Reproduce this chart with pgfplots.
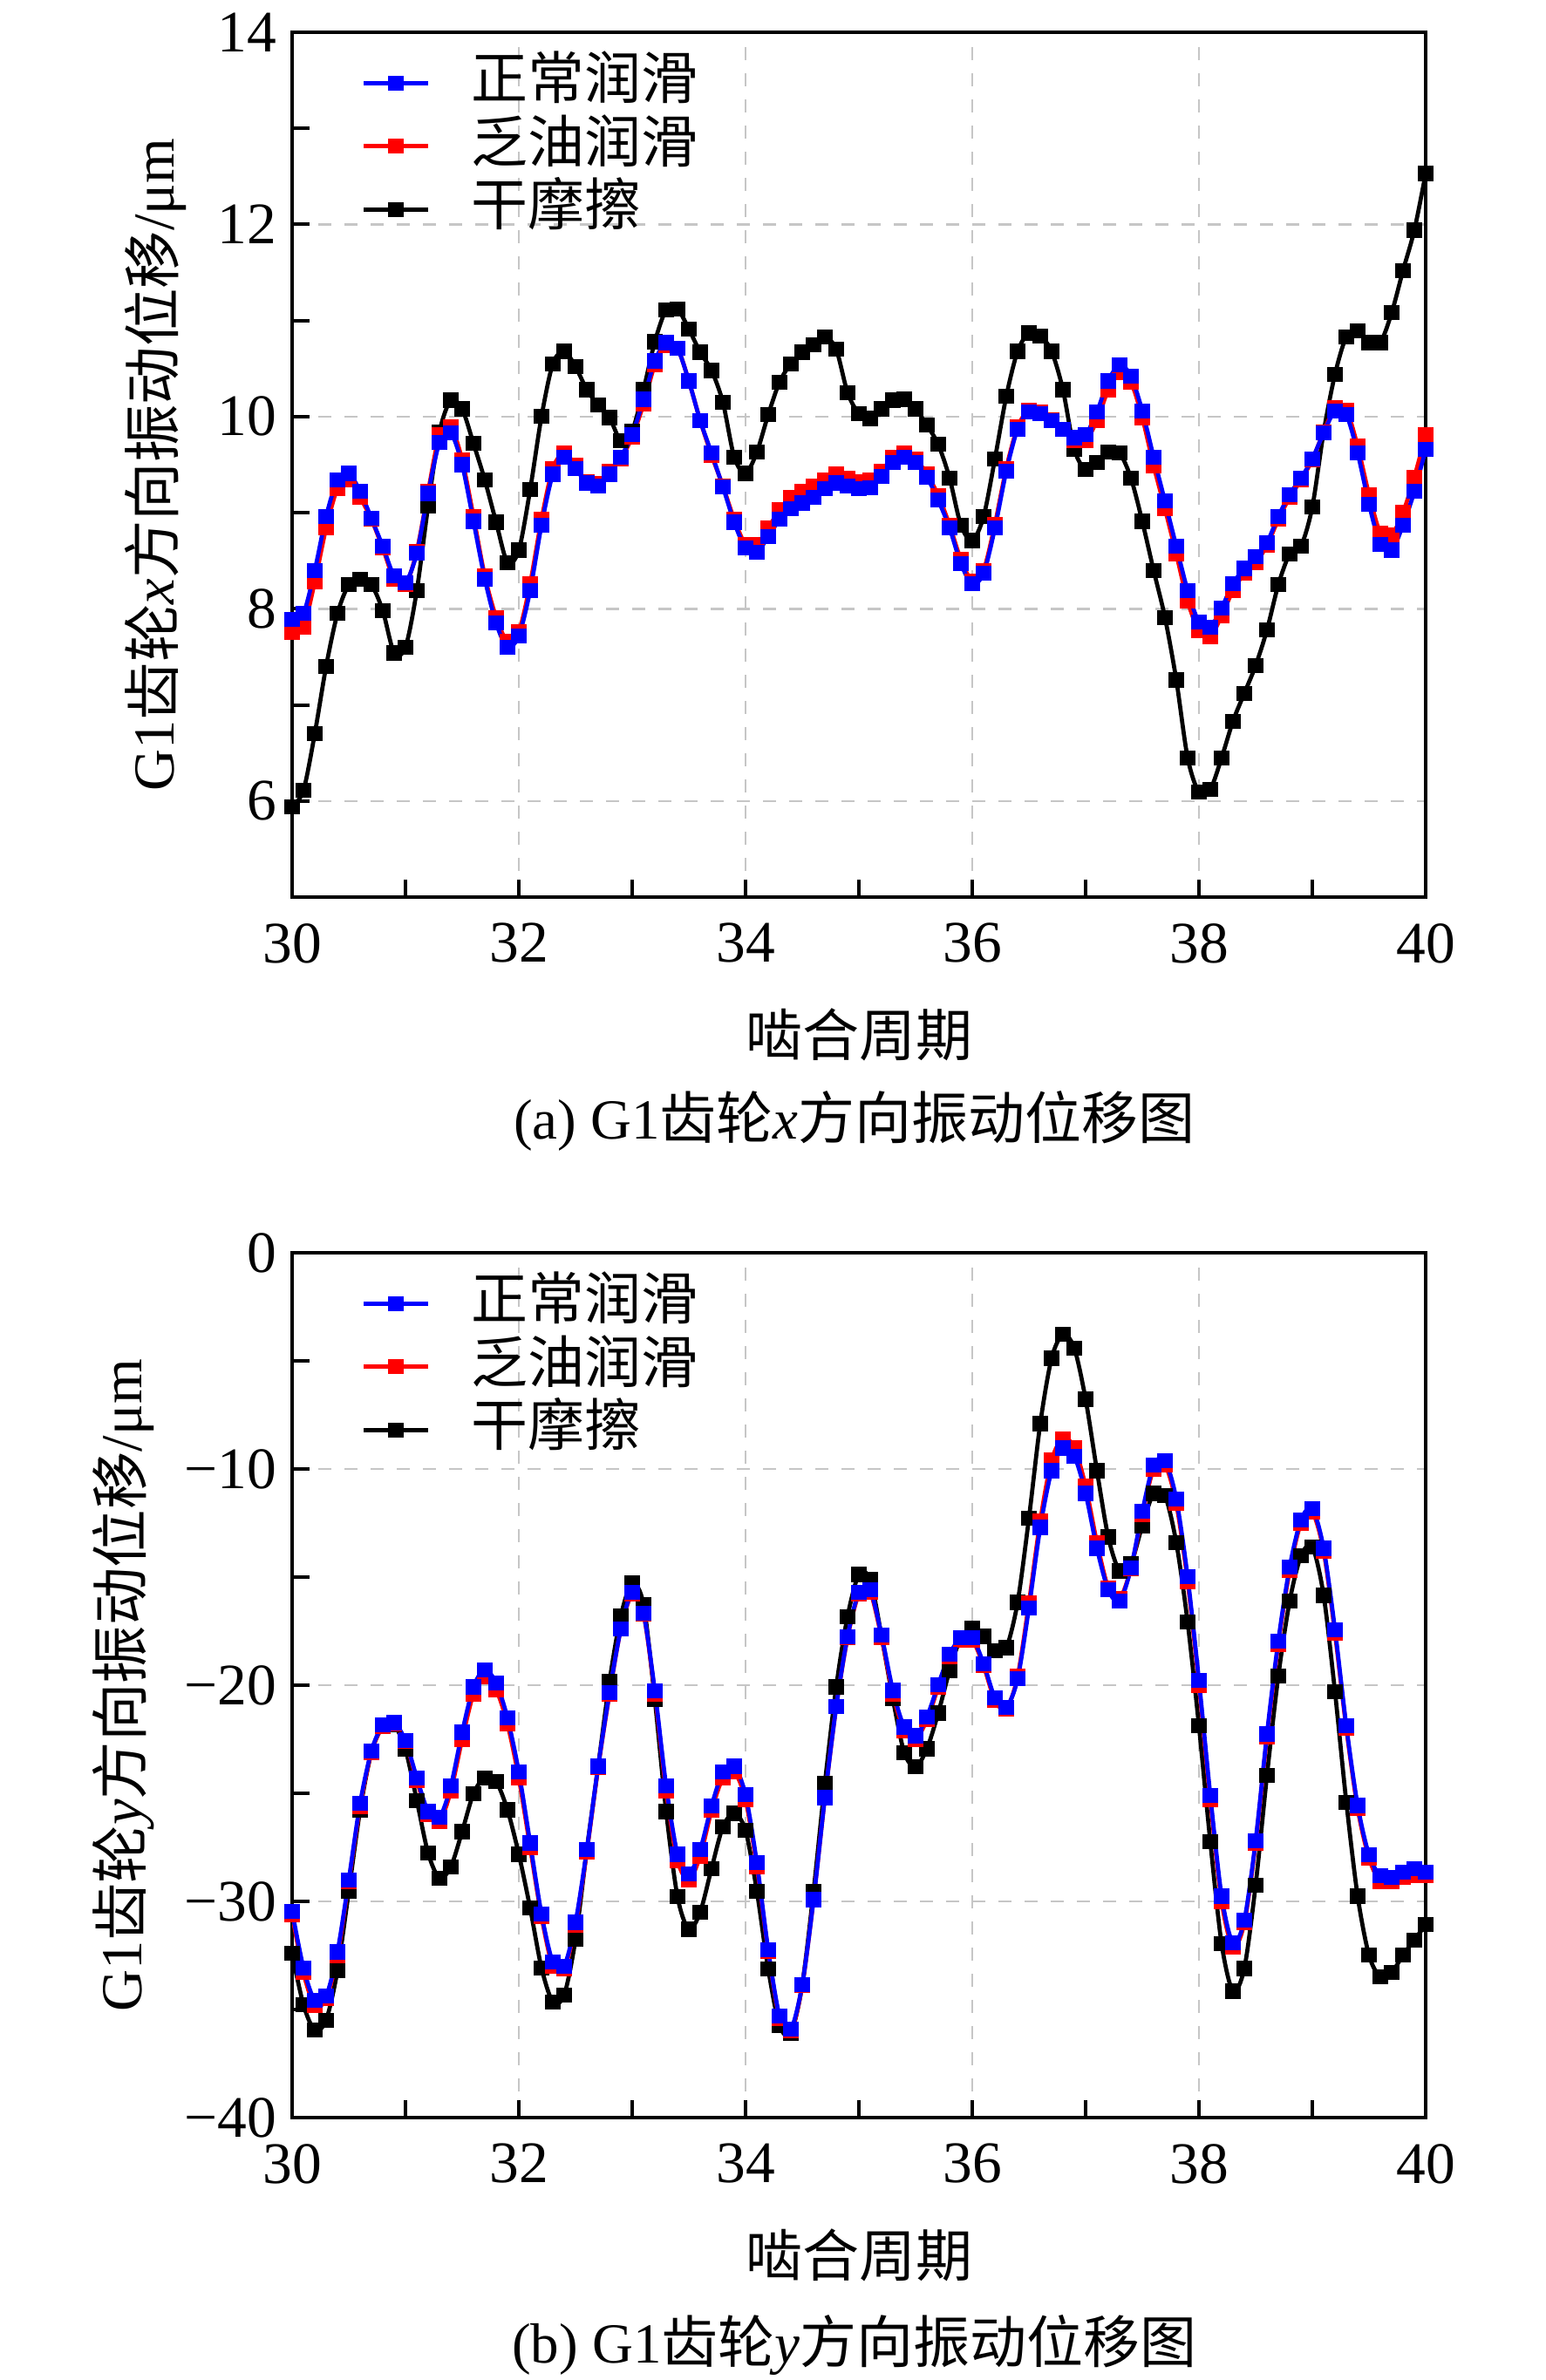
\documentclass[border=0pt]{standalone}
\usepackage{fontspec}
\setmainfont{Liberation Serif}
\newfontfamily\cjk{Noto Sans CJK SC}
\usepackage{pgfplots}
\pgfplotsset{compat=1.18}
\usepackage{pgfplotstable}

\pgfplotstableread{
x n l d
30.0 7.89 7.75 5.94
30.1 7.95 7.81 6.11
30.2 8.40 8.28 6.70
30.3 8.96 8.84 7.40
30.4 9.34 9.25 7.95
30.5 9.41 9.34 8.25
30.6 9.22 9.16 8.31
30.7 8.94 8.93 8.25
30.8 8.65 8.63 7.98
30.9 8.34 8.31 7.54
31.0 8.27 8.25 7.60
31.1 8.58 8.60 8.19
31.2 9.20 9.22 9.07
31.3 9.73 9.81 9.84
31.4 9.83 9.89 10.17
31.5 9.50 9.55 10.08
31.6 8.91 8.96 9.72
31.7 8.31 8.34 9.34
31.8 7.85 7.91 8.90
31.9 7.60 7.66 8.48
32.0 7.72 7.76 8.61
32.1 8.19 8.26 9.24
32.2 8.87 8.93 10.00
32.3 9.40 9.46 10.55
32.4 9.58 9.62 10.68
32.5 9.46 9.49 10.52
32.6 9.31 9.32 10.28
32.7 9.28 9.30 10.12
32.8 9.40 9.43 9.99
32.9 9.58 9.56 9.75
33.0 9.81 9.79 9.85
33.1 10.18 10.13 10.28
33.2 10.58 10.54 10.78
33.3 10.77 10.74 11.11
33.4 10.71 10.71 11.12
33.5 10.37 10.37 10.91
33.6 9.96 9.96 10.67
33.7 9.62 9.60 10.48
33.8 9.27 9.28 10.15
33.9 8.90 8.93 9.58
34.0 8.63 8.67 9.41
34.1 8.59 8.67 9.63
34.2 8.75 8.84 10.02
34.3 8.93 9.03 10.36
34.4 9.04 9.16 10.55
34.5 9.10 9.22 10.67
34.6 9.16 9.28 10.75
34.7 9.25 9.34 10.83
34.8 9.31 9.40 10.70
34.9 9.28 9.36 10.25
35.0 9.25 9.32 10.03
35.1 9.26 9.34 9.98
35.2 9.38 9.43 10.08
35.3 9.52 9.58 10.17
35.4 9.58 9.62 10.18
35.5 9.52 9.56 10.08
35.6 9.37 9.40 9.91
35.7 9.13 9.18 9.71
35.8 8.84 8.87 9.36
35.9 8.47 8.51 8.87
36.0 8.26 8.29 8.71
36.1 8.37 8.40 8.96
36.2 8.84 8.88 9.56
36.3 9.43 9.46 10.21
36.4 9.87 9.89 10.68
36.5 10.05 10.07 10.87
36.6 10.03 10.05 10.84
36.7 9.96 9.97 10.68
36.8 9.87 9.87 10.28
36.9 9.78 9.75 9.66
37.0 9.81 9.75 9.45
37.1 10.05 9.96 9.52
37.2 10.37 10.28 9.63
37.3 10.54 10.46 9.62
37.4 10.42 10.36 9.36
37.5 10.06 9.99 8.91
37.6 9.58 9.49 8.40
37.7 9.12 9.04 7.91
37.8 8.65 8.57 7.26
37.9 8.19 8.08 6.45
38.0 7.86 7.77 6.09
38.1 7.81 7.71 6.12
38.2 8.01 7.93 6.45
38.3 8.26 8.19 6.83
38.4 8.42 8.37 7.12
38.5 8.54 8.48 7.41
38.6 8.69 8.66 7.78
38.7 8.96 8.93 8.25
38.8 9.19 9.16 8.57
38.9 9.36 9.34 8.65
39.0 9.56 9.55 9.06
39.1 9.83 9.84 9.84
39.2 10.06 10.09 10.44
39.3 10.02 10.07 10.83
39.4 9.62 9.69 10.89
39.5 9.09 9.19 10.77
39.6 8.67 8.79 10.77
39.7 8.61 8.77 11.08
39.8 8.87 9.00 11.52
39.9 9.22 9.37 11.94
40.0 9.66 9.81 12.53
}\topdata

\pgfplotstableread{
x n l d
30.0 -30.45 -30.6 -32.41
30.1 -33.07 -33.3 -34.78
30.2 -34.59 -34.8 -35.96
30.3 -34.38 -34.5 -35.49
30.4 -32.34 -32.5 -33.20
30.5 -29.00 -29.1 -29.53
30.6 -25.46 -25.6 -25.77
30.7 -23.04 -23.1 -23.10
30.8 -21.84 -21.9 -21.92
30.9 -21.73 -21.8 -21.84
31.0 -22.57 -22.6 -22.97
31.1 -24.28 -24.4 -25.33
31.2 -25.85 -26.0 -27.77
31.3 -26.12 -26.3 -28.92
31.4 -24.67 -24.9 -28.40
31.5 -22.18 -22.5 -26.77
31.6 -20.08 -20.4 -25.01
31.7 -19.29 -19.6 -24.28
31.8 -19.90 -20.2 -24.46
31.9 -21.52 -21.8 -25.77
32.0 -24.02 -24.3 -27.82
32.1 -27.30 -27.5 -30.31
32.2 -30.58 -30.7 -33.07
32.3 -32.81 -33.0 -34.65
32.4 -32.99 -33.1 -34.33
32.5 -30.97 -31.1 -31.76
32.6 -27.61 -27.7 -27.61
32.7 -23.75 -23.8 -23.75
32.8 -20.34 -20.4 -19.82
32.9 -17.40 -17.4 -16.80
33.0 -15.70 -15.8 -15.28
33.1 -16.67 -16.7 -16.27
33.2 -20.26 -20.4 -20.68
33.3 -24.67 -24.9 -25.85
33.4 -27.82 -28.1 -29.79
33.5 -28.74 -29.0 -31.29
33.6 -27.61 -27.9 -30.50
33.7 -25.59 -25.8 -28.48
33.8 -24.02 -24.3 -26.56
33.9 -23.75 -24.0 -25.93
34.0 -25.07 -25.3 -26.72
34.1 -28.22 -28.4 -29.53
34.2 -32.23 -32.3 -33.12
34.3 -35.30 -35.4 -35.75
34.4 -35.91 -36.0 -36.09
34.5 -33.86 -33.9 -33.86
34.6 -29.92 -29.9 -29.53
34.7 -25.20 -25.2 -24.54
34.8 -21.00 -21.0 -20.08
34.9 -17.75 -17.8 -16.82
35.0 -15.70 -15.8 -14.88
35.1 -15.59 -15.7 -15.12
35.2 -17.69 -17.8 -17.74
35.3 -20.24 -20.4 -20.63
35.4 -21.94 -22.1 -23.12
35.5 -22.34 -22.5 -23.78
35.6 -21.47 -21.6 -22.94
35.7 -19.97 -20.1 -21.29
35.8 -18.58 -18.7 -19.32
35.9 -17.80 -17.9 -17.80
36.0 -17.80 -17.9 -17.35
36.1 -19.00 -19.1 -17.74
36.2 -20.58 -20.7 -18.40
36.3 -21.02 -21.1 -18.27
36.4 -19.71 -19.6 -16.17
36.5 -16.43 -16.2 -12.28
36.6 -12.70 -12.4 -7.90
36.7 -10.08 -9.6 -4.88
36.8 -9.03 -8.6 -3.78
36.9 -9.40 -9.0 -4.41
37.0 -11.13 -10.8 -6.77
37.1 -13.67 -13.4 -10.08
37.2 -15.59 -15.5 -13.15
37.3 -16.12 -16.0 -14.72
37.4 -14.59 -14.6 -14.38
37.5 -11.97 -12.1 -12.62
37.6 -9.82 -10.0 -11.13
37.7 -9.61 -9.8 -11.23
37.8 -11.39 -11.6 -13.41
37.9 -14.99 -15.2 -17.09
38.0 -19.79 -20.0 -21.89
38.1 -25.09 -25.3 -27.24
38.2 -29.76 -30.0 -31.97
38.3 -31.92 -32.1 -34.15
38.4 -30.87 -31.0 -33.10
38.5 -27.19 -27.3 -29.24
38.6 -22.26 -22.4 -24.17
38.7 -17.95 -18.1 -19.58
38.8 -14.54 -14.7 -16.12
38.9 -12.36 -12.5 -14.02
39.0 -11.84 -12.0 -13.60
39.1 -13.67 -13.8 -15.85
39.2 -17.43 -17.6 -20.31
39.3 -21.89 -22.0 -25.41
39.4 -25.56 -25.7 -29.76
39.5 -27.85 -28.0 -32.49
39.6 -28.82 -29.1 -33.49
39.7 -28.90 -29.1 -33.28
39.8 -28.64 -28.9 -32.49
39.9 -28.50 -28.8 -31.78
40.0 -28.64 -28.8 -31.08
}\botdata

\pgfplotsset{
  mystyle/.style={
    width=260pt, height=198.4pt, scale only axis,
    anchor=south west,
    xmin=30, xmax=40,
    xtick={30,32,...,40}, minor xtick={31,33,...,39},
    tick pos=left, tick align=inside,
    major tick length=4pt, minor tick length=4pt,
    every tick/.style={black, line width=0.8pt},
    axis line style={line width=0.8pt},
    grid=major,
    major grid style={dashed, gray!45, line width=0.5pt},
    tick label style={font=\fontsize{13.5}{16}\selectfont},
    /pgf/number format/assume math mode=true,
    xticklabel style={yshift=-2.5pt},
    legend style={draw=none, fill=none, at={(rel axis cs:0.049,0.989)}, anchor=north west,
      font=\cjk\fontsize{13}{15}\selectfont, row sep=0pt,
      nodes={inner sep=1pt, text height=10pt, text depth=2.5pt},
      /tikz/every odd column/.append style={column sep=8.5pt}},
    legend cell align=left,
    reverse legend,
    legend image code/.code={\draw[mark repeat=2,mark phase=2] plot coordinates {(0pt,0pt) (7.4pt,0pt) (14.8pt,0pt)};},
    every axis plot/.append style={line width=0.95pt, smooth, mark=square*, mark size=1.25pt, mark options={solid}},
  }
}

\begin{document}
\begin{tikzpicture}
\path[use as bounding box] (0,0) rectangle (354.4pt,546pt);

\begin{axis}[mystyle, at={(67pt,340.2pt)},
  ymin=5, ymax=14, ytick={6,8,...,14}, minor ytick={7,9,11,13}]
\addplot[black] table[x=x,y=d] {\topdata};
\addlegendentry{干摩擦}
\addplot[red] table[x=x,y=l] {\topdata};
\addlegendentry{乏油润滑}
\addplot[blue] table[x=x,y=n] {\topdata};
\addlegendentry{正常润滑}
\end{axis}

\begin{axis}[mystyle, at={(67pt,60.2pt)},
  ymin=-40, ymax=0, ytick={-40,-30,...,0}, minor ytick={-35,-25,-15,-5},
  yticklabels={−40,−30,−20,−10,0}]
\addplot[black] table[x=x,y=d] {\botdata};
\addlegendentry{干摩擦}
\addplot[red] table[x=x,y=l] {\botdata};
\addlegendentry{乏油润滑}
\addplot[blue] table[x=x,y=n] {\botdata};
\addlegendentry{正常润滑}
\end{axis}

\node[rotate=90, font=\fontsize{13.3}{15}\selectfont] at (35.6pt,439.4pt) {G1{\cjk 齿轮}\textit{x}{\cjk 方向振动位移}/μm};
\node[rotate=90, font=\fontsize{13.3}{15}\selectfont] at (28.4pt,159.3pt) {G1{\cjk 齿轮}\textit{y}{\cjk 方向振动位移}/μm};

\node[font=\cjk\fontsize{13}{15}\selectfont] at (197pt,308.6pt) {啮合周期};
\node[font=\fontsize{13}{15}\selectfont] at (196pt,288.8pt) {(a) G1{\cjk 齿轮}\textit{x}{\cjk 方向振动位移图}};
\node[font=\cjk\fontsize{13}{15}\selectfont] at (197pt,28.6pt) {啮合周期};
\node[font=\fontsize{13}{15}\selectfont] at (196pt,8pt) {(b) G1{\cjk 齿轮}\textit{y}{\cjk 方向振动位移图}};
\end{tikzpicture}
\end{document}
